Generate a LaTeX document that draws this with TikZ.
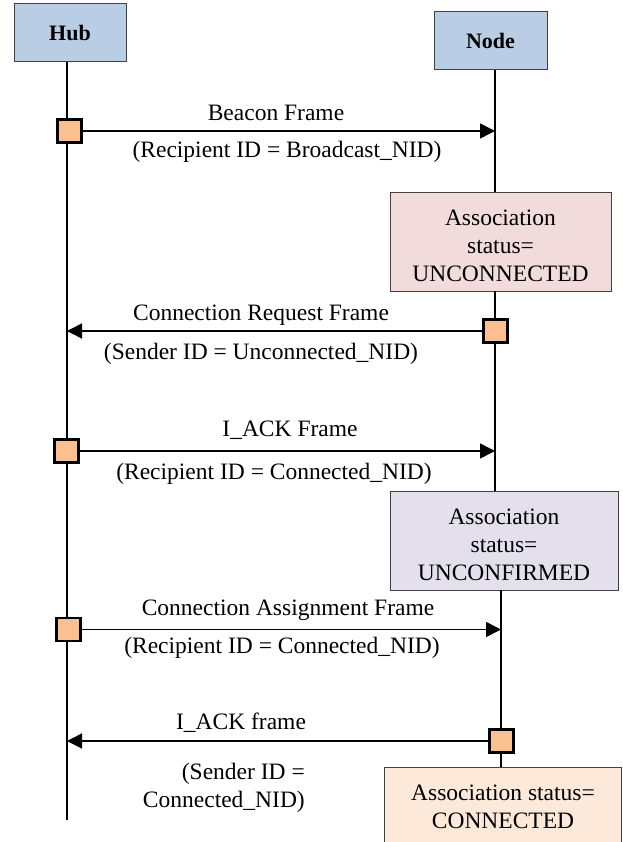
\documentclass[tikz,border=0pt]{standalone}
\usepackage{fontspec}
\setmainfont{Liberation Serif}
\usetikzlibrary{arrows.meta}

\definecolor{actorblue}{HTML}{B9CDE5}
\definecolor{unconnpink}{HTML}{F2DCDB}
\definecolor{unconflilac}{HTML}{E4DFEC}
\definecolor{connpeach}{HTML}{FDE9D9}
\definecolor{sendorange}{HTML}{FAC090}

\begin{document}
\begin{tikzpicture}[x=1pt,y=-1pt,
  every node/.style={font=\fontsize{23.5}{28}\selectfont},
  actor/.style={draw=black!75, line width=1pt, fill=actorblue, inner sep=0pt,
    minimum width=112pt, minimum height=58pt,
    font=\fontsize{22}{26}\selectfont\bfseries},
  statebox/.style={draw=black!75, line width=0.9pt, inner sep=0pt},
  statetext/.style={align=center, inner sep=0pt},
  sendbox/.style={draw=black, line width=2.4pt, fill=sendorange, inner sep=0pt,
    minimum width=24pt, minimum height=23pt},
  lifeline/.style={line width=1.6pt},
  msg/.style={line width=1.6pt, -{Triangle[length=15pt,width=15pt]}},
  msgtext/.style={anchor=base, inner sep=0pt}
]
\useasboundingbox (0,0) rectangle (622,842);
\clip (0,0) rectangle (622,842);

% lifeline axes
\coordinate (hubline) at (67,0);
\coordinate (upline) at (495,0);
\coordinate (lowline) at (501,0);
\coordinate (hubend) at (67,820);

% participants
\node[actor] (hub) at (70,33) {Hub};
\node[actor, minimum width=113pt] (node) at (490.5,41) {Node};

% association state boxes on the node side
\node[statebox, fill=unconnpink, minimum width=221pt, minimum height=99pt]
  (st1) at (500.5,241.5) {};
\node[statetext] (st1txt) at (500.5,245.5) {Association\\status=\\UNCONNECTED};
\node[statebox, fill=unconflilac, minimum width=228pt, minimum height=99pt]
  (st2) at (504,540.5) {};
\node[statetext] (st2txt) at (504,544.5) {Association\\status=\\UNCONFIRMED};
\node[statebox, fill=connpeach, minimum width=237pt, minimum height=100pt, anchor=north]
  (st3) at (502.5,767) {};
\node[statetext] (st3txt) at (503,807) {Association status=\\CONNECTED};

% lifelines
\draw[lifeline] (hub.south -| hubline) -- (hubend);
\draw[lifeline] (node.south -| upline) -- (st1.north -| upline);
\draw[lifeline] (st1.south -| upline) -- (st2.north -| upline);
\draw[lifeline] (st2.south -| lowline) -- (st3.north -| lowline);

% send activations
\node[sendbox] (sq1) at (69.5,131) {};
\node[sendbox] (sq2) at (495.5,331) {};
\node[sendbox] (sq3) at (66.5,451) {};
\node[sendbox] (sq4) at (68.5,629.5) {};
\node[sendbox] (sq5) at (501.5,741) {};

% messages
\draw[msg] (sq1.east) -- (sq1.east -| upline);
\draw[msg] (sq2.west) -- (sq2.west -| hubline);
\draw[msg] (sq3.east) -- (sq3.east -| upline);
\draw[msg] (sq4.east) -- (sq4.east -| lowline);
\draw[msg] (sq5.west) -- (sq5.west -| hubline);

% message labels
\node[msgtext] (l1a) at (276,121) {Beacon Frame};
\node[msgtext] (l1b) at (287,158) {(Recipient ID = Broadcast\_NID)};
\node[msgtext] (l2a) at (261,320) {Connection Request Frame};
\node[msgtext] (l2b) at (261,359) {(Sender ID = Unconnected\_NID)};
\node[msgtext] (l3a) at (290,436) {I\_ACK Frame};
\node[msgtext] (l3b) at (274,479) {(Recipient ID = Connected\_NID)};
\node[msgtext] (l4a) at (288,615) {Connection Assignment Frame};
\node[msgtext] (l4b) at (282,653) {(Recipient ID = Connected\_NID)};
\node[msgtext] (l5a) at (241,729) {I\_ACK frame};
\node[align=right, anchor=base east, inner sep=0pt] (l5b) at (305,807)
  {(Sender ID =\\Connected\_NID)};
\end{tikzpicture}
\end{document}
